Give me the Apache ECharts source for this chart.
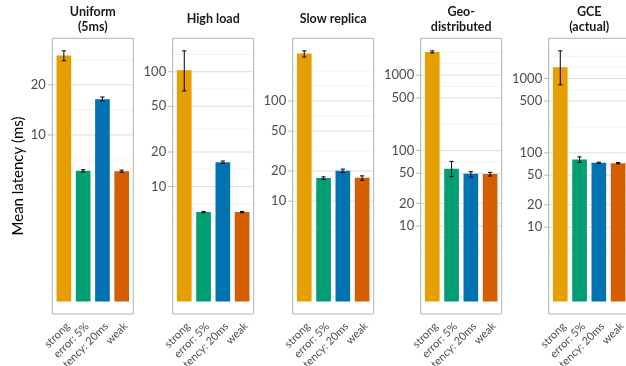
<!DOCTYPE html>
<html><head><meta charset="utf-8">
<script src="https://cdn.jsdelivr.net/npm/echarts@6/dist/echarts.min.js"></script>
<style>html,body{margin:0;padding:0;background:#fff}#c{width:626px;height:366px}</style>
</head><body><div id="c"></div>
<script>
// ---- data ----
const categories = ['strong', 'error: 5%', 'latency: 20ms', 'weak'];
const facetTitles = ['Uniform\n(5ms)', 'High load', 'Slow replica', 'Geo-\ndistributed', 'GCE\n(actual)'];
const yBreaks = [10, 20, 50, 100, 500, 1000];

const uniformMean = [30.0, 6.09, 16.4, 6.06];
const uniformLow  = [27.9, 5.99, 16.0, 5.97];
const uniformHigh = [32.0, 6.19, 16.9, 6.15];

const highLoadMean = [103, 6.0, 16.3, 6.0];
const highLoadLow  = [68, 5.92, 15.9, 5.92];
const highLoadHigh = [152, 6.08, 16.7, 6.08];

const slowReplicaMean = [297, 17.0, 20.1, 17.1];
const slowReplicaLow  = [274, 16.5, 19.3, 16.2];
const slowReplicaHigh = [316, 17.5, 20.9, 17.9];

const geoMean = [2030, 57.4, 49.3, 49.0];
const geoLow  = [1970, 45.0, 44.6, 46.0];
const geoHigh = [2100, 72.0, 52.5, 51.5];

const gceMean = [1423, 81.5, 73.3, 72.6];
const gceLow  = [823, 74.3, 71.8, 71.2];
const gceHigh = [2360, 88.3, 74.8, 74.0];

const facetMeans = [uniformMean, highLoadMean, slowReplicaMean, geoMean, gceMean];
const facetLows  = [uniformLow, highLoadLow, slowReplicaLow, geoLow, gceLow];
const facetHighs = [uniformHigh, highLoadHigh, slowReplicaHigh, geoHigh, gceHigh];

// ---- style / layout ----
const colors = ['#E69F00', '#009E73', '#0072B2', '#D55E00'];
const panelLefts = [52.3, 172.7, 292.7, 420.7, 548.7];
const panelW = 81, panelTop = 38.3, panelH = 275.7;
const FONT = 'Lato, "Noto Sans", sans-serif';

const chart = echarts.init(document.getElementById('c'), null, {renderer: 'canvas'});

const grids = [], xAxes = [], yAxes = [], series = [], graphics = [];

facetMeans.forEach((means, f) => {
  const lows = facetLows[f], highs = facetHighs[f];
  const pl = panelLefts[f];
  // ggplot-like limits: log range [0, log10(max upper)] expanded by 5%
  const hiLog = Math.log10(Math.max(...highs));
  const pad = 0.05 * hiLog;
  const yMin = Math.pow(10, -pad), yMax = Math.pow(10, hiLog + pad);
  const loLog = -pad, topLog = hiLog + pad;

  const unit = panelW / 4.2;
  grids.push({left: pl + 0.1 * unit, top: panelTop, width: unit * 4, height: panelH,
              containLabel: false, outerBoundsMode: 'none'});
  xAxes.push({
    type: 'category', gridIndex: f, data: categories,
    axisLine: {show: false},
    axisTick: {alignWithLabel: true, length: 4.5, lineStyle: {color: '#B3B3B3'}},
    axisLabel: {rotate: 45, interval: 0, fontSize: 11, color: '#4D4D4D', margin: 6.5,
                align: 'right', verticalAlign: 'top', fontFamily: FONT}
  });
  yAxes.push({
    type: 'log', logBase: 10, gridIndex: f, min: yMin, max: yMax,
    axisLine: {show: false}, axisTick: {show: false}, axisLabel: {show: false},
    splitLine: {show: false}, minorSplitLine: {show: false}
  });

  // gridlines: majors = breaks inside limits, minors per ggplot regular_minor_breaks
  const majors = yBreaks.filter(b => { const l = Math.log10(b); return l >= loLog && l <= topLog; });
  let b = majors.map(v => Math.log10(v));
  const minors = [];
  if (b.length >= 2) {
    const bd = b[1] - b[0];
    if (loLog < b[0]) b = [b[0] - bd].concat(b);
    if (topLog > b[b.length - 1]) b = b.concat([b[b.length - 1] + bd]);
    for (let k = 0; k < b.length - 1; k++) {
      minors.push(b[k], (b[k] + b[k + 1]) / 2);
    }
    minors.push(b[b.length - 1]);
  }
  const majorLogs = majors.map(v => Math.log10(v));
  const gridData = [];
  minors.forEach(l => {
    if (l >= loLog && l <= topLog && !majorLogs.some(m => Math.abs(m - l) < 1e-9)) gridData.push([0, Math.pow(10, l), 0]);
  });
  majors.forEach(v => gridData.push([0, v, 1]));

  series.push({
    type: 'custom', xAxisIndex: f, yAxisIndex: f, z: 1, clip: false, silent: true,
    encode: {x: 0, y: 1},
    data: gridData,
    renderItem: (params, api) => {
      const y = api.coord([0, api.value(1)])[1];
      const major = api.value(2) === 1;
      const children = [{
        type: 'line',
        shape: {x1: pl, y1: y, x2: pl + panelW, y2: y},
        style: {stroke: major ? '#DEDEDE' : '#EEEEEE', lineWidth: major ? 1 : 0.7}
      }];
      if (major) {
        children.push({
          type: 'line', shape: {x1: pl - 4.5, y1: y, x2: pl, y2: y},
          style: {stroke: '#B3B3B3', lineWidth: 1}
        });
        children.push({
          type: 'text',
          style: {text: String(api.value(1)), x: pl - 6.5, y: y, align: 'right', verticalAlign: 'middle',
                  textAlign: 'right', textVerticalAlign: 'middle', fill: '#4D4D4D', font: '13px ' + FONT}
        });
      }
      return {type: 'group', children};
    }
  });

  series.push({
    type: 'bar', xAxisIndex: f, yAxisIndex: f, z: 2, barWidth: '76%',
    data: means.map((v, j) => ({value: v, itemStyle: {color: colors[j]}})),
    silent: true
  });

  series.push({
    type: 'custom', xAxisIndex: f, yAxisIndex: f, z: 3, clip: false, silent: true,
    encode: {x: 0, y: [1, 2]},
    data: means.map((v, j) => [j, lows[j], highs[j]]),
    renderItem: (params, api) => {
      const x = api.value(0);
      const pLo = api.coord([x, api.value(1)]);
      const pHi = api.coord([x, api.value(2)]);
      const hw = (params.coordSys.width / categories.length) * 0.11;
      const st = {stroke: '#000', lineWidth: 1};
      return {type: 'group', children: [
        {type: 'line', shape: {x1: pLo[0], y1: pLo[1], x2: pHi[0], y2: pHi[1]}, style: st},
        {type: 'line', shape: {x1: pLo[0] - hw, y1: pLo[1], x2: pLo[0] + hw, y2: pLo[1]}, style: st},
        {type: 'line', shape: {x1: pHi[0] - hw, y1: pHi[1], x2: pHi[0] + hw, y2: pHi[1]}, style: st}
      ]};
    }
  });

  // panel border
  graphics.push({
    type: 'rect', z: 10, silent: true,
    shape: {x: pl, y: panelTop, width: panelW, height: panelH},
    style: {fill: 'none', stroke: '#B3B3B3', lineWidth: 1}
  });
  // strip title
  graphics.push({
    type: 'text', z: 10, silent: true, x: pl + panelW / 2, y: 19,
    style: {text: facetTitles[f], align: 'center', verticalAlign: 'middle', textAlign: 'center', textVerticalAlign: 'middle',
            font: 'bold 12.5px ' + FONT, fill: '#1A1A1A', lineHeight: 15}
  });
});

graphics.push({
  type: 'text', z: 10, silent: true, x: 18, y: 176, rotation: Math.PI / 2,
  style: {text: 'Mean latency (ms)', align: 'center', verticalAlign: 'middle', textAlign: 'center', textVerticalAlign: 'middle',
          font: '15px ' + FONT, fill: '#000'}
});

chart.setOption({
  animation: false,
  backgroundColor: '#fff',
  grid: grids, xAxis: xAxes, yAxis: yAxes, series: series, graphic: graphics
});
</script>
</body></html>
